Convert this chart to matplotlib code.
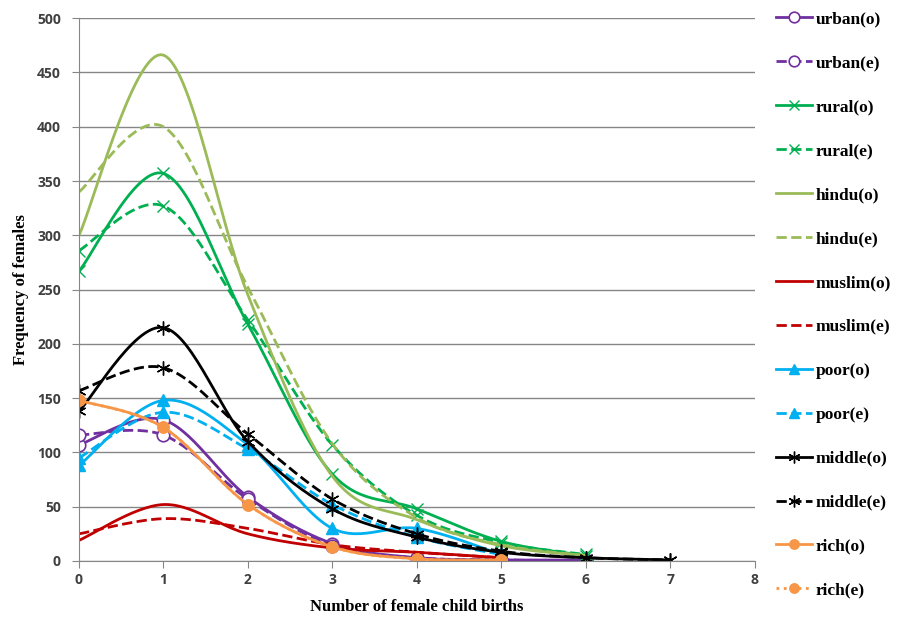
import matplotlib
matplotlib.use('Agg')
import matplotlib.pyplot as plt
import numpy as np

# Antall jentefødsler (x) og frekvens av kvinner, observert (o) og forventet (e)
x_urban = [0, 1, 2, 3, 4, 5, 6]
urban_o = [107, 130, 59, 16, 3, 1, 1]
urban_e = [116, 116, 57, 14, 3, 1, 0]

x_rural = [0, 1, 2, 3, 4, 5, 6]
rural_o = [267, 357, 218, 80, 48, 18, 5]
rural_e = [286, 327, 222, 107, 42, 17, 6]

x_hindu = [0, 1, 2, 3, 4, 5, 6]
hindu_o = [300, 466, 245, 78, 38, 14, 5]
hindu_e = [340, 400, 252, 108, 40, 15, 5]

x_muslim = [0, 1, 2, 3, 4, 5]
muslim_o = [19, 52, 25, 12, 8, 3]
muslim_e = [25, 39, 30, 15, 8, 3]

x_poor = [0, 1, 2, 3, 4, 5]
poor_o = [88, 148, 107, 30, 30, 6]
poor_e = [95, 137, 103, 52, 22, 6]

x_middle = [0, 1, 2, 3, 4, 5, 6, 7]
middle_o = [138, 215, 110, 48, 22, 8, 3, 1]
middle_e = [157, 178, 117, 57, 25, 9, 3, 1]

x_rich = [0, 1, 2, 3, 4, 5]
rich_o = [148, 123, 52, 13, 2, 1]
rich_e = [148, 123, 52, 13, 2, 1]


def glatt(xs, ys, n=30):
    # Excel-lignende glatting (Bezier med spenning 1/6)
    p = np.column_stack([xs, ys]).astype(float)
    p = np.vstack([p[0], p, p[-1]])
    ut = [p[1]]
    idx = [0]
    t = np.linspace(0, 1, n + 1)[1:]
    for i in range(1, len(p) - 2):
        p0, p1 = p[i], p[i + 1]
        c1 = p0 + (p[i + 1] - p[i - 1]) / 6
        c2 = p1 - (p[i + 2] - p[i]) / 6
        for tt in t:
            ut.append((1 - tt) ** 3 * p0 + 3 * (1 - tt) ** 2 * tt * c1
                      + 3 * (1 - tt) * tt ** 2 * c2 + tt ** 3 * p1)
        idx.append(len(ut) - 1)
    ut = np.array(ut)
    return ut[:, 0], ut[:, 1], idx


serier = [
    ("urban(o)", x_urban, urban_o, '#7030A0', '-', dict(marker='o', ms=9, mfc='white', mew=1.2)),
    ("urban(e)", x_urban, urban_e, '#7030A0', '--', dict(marker='o', ms=9, mfc='white', mew=1.2)),
    ("rural(o)", x_rural, rural_o, '#00B050', '-', dict(marker='x', ms=9, mew=1.0)),
    ("rural(e)", x_rural, rural_e, '#00B050', '--', dict(marker='x', ms=9, mew=1.0)),
    ("hindu(o)", x_hindu, hindu_o, '#9BBB59', '-', {}),
    ("hindu(e)", x_hindu, hindu_e, '#9BBB59', '--', {}),
    ("muslim(o)", x_muslim, muslim_o, '#C00000', '-', {}),
    ("muslim(e)", x_muslim, muslim_e, '#C00000', '--', {}),
    ("poor(o)", x_poor, poor_o, '#00B0F0', '-', dict(marker='^', ms=8)),
    ("poor(e)", x_poor, poor_e, '#00B0F0', '--', dict(marker='^', ms=8)),
    ("middle(o)", x_middle, middle_o, 'black', '-', dict(marker=(6, 2, 0), ms=10, mew=1.0)),
    ("middle(e)", x_middle, middle_e, 'black', '--', dict(marker=(6, 2, 0), ms=10, mew=1.0)),
    ("rich(o)", x_rich, rich_o, '#F79646', '-', dict(marker='o', ms=8)),
    ("rich(e)", x_rich, rich_e, '#F79646', ':', dict(marker='o', ms=8)),
]

fig = plt.figure(figsize=(9.07, 6.28), dpi=100)
ax = fig.add_axes([0.0871, 0.1067, 0.745, 0.8643])

for navn, xs, ys, farge, stil, mk in serier:
    gx, gy, idx = glatt(xs, ys)
    ax.plot(gx, gy, color=farge, linestyle=stil, linewidth=2.0,
            markevery=idx, label=navn, **mk)

ax.set_xlim(0, 8)
ax.set_ylim(0, 500)
ax.set_xticks(range(0, 9))
ax.set_yticks(range(0, 501, 50))
ax.yaxis.grid(True, color='#868686', linewidth=1.0)
ax.set_axisbelow(True)
for s in ['top', 'right']:
    ax.spines[s].set_visible(False)
for s in ['left', 'bottom']:
    ax.spines[s].set_color('#868686')
ax.tick_params(axis='both', colors='#868686', length=5, labelcolor='#404040',
               labelsize=10)
for lab in ax.get_xticklabels() + ax.get_yticklabels():
    lab.set_fontweight('bold')
    lab.set_family('Open Sans')
ax.tick_params(axis='y', pad=8)

ax.set_xlabel("Number of female child births", family='Liberation Serif',
              fontweight='bold', fontsize=12, labelpad=9)
ax.set_ylabel("Frequency of females", family='Liberation Serif',
              fontweight='bold', fontsize=12, labelpad=6)

fig.legend(loc='upper left', bbox_to_anchor=(0.846, 0.996), frameon=False,
           labelspacing=1.60, handlelength=2.1, handletextpad=0.2, borderpad=0,
           markerscale=0.85,
           prop={'family': 'Liberation Serif', 'weight': 'bold', 'size': 12.5})

fig.savefig('out.png', dpi=100)
